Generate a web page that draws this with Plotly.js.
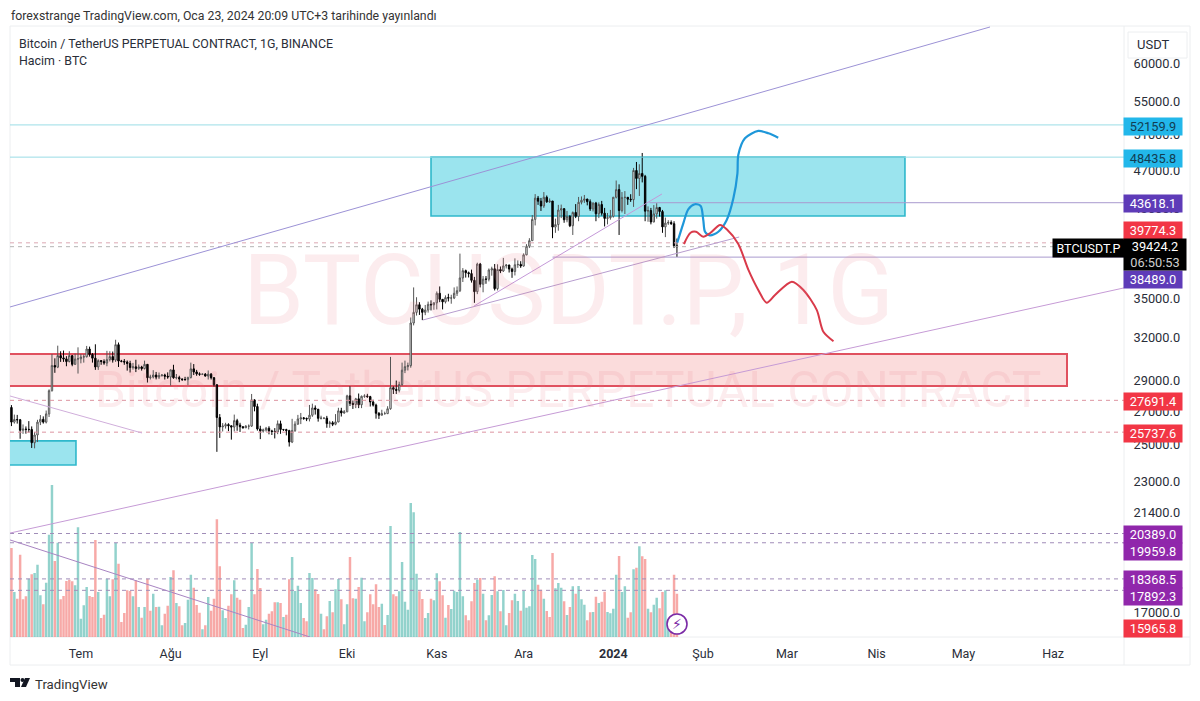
<!DOCTYPE html>
<html><head><meta charset="utf-8">
<script src="https://cdn.plot.ly/plotly-3.0.1.min.js"></script>
<style>html,body{margin:0;padding:0;background:#fff;overflow:hidden}#c{width:1200px;height:701px}</style>
</head><body><div id="c"></div>
<script>
// ---- OHLC (daily, first candle 7 Jun 2023) grouped by month ----
const firstDay = -24; // days relative to 1 Jul 2023
const opens = [
27240,26340,26500,26480,25850,25920,25900,25900,25120,25570,26340,26510,26340,26840,28310,30000,29890,30690,30530,30460,30270,30690,30080,30450,
30470,30590,30610,31160,30770,30510,29900,30340,30280,30170,30410,30620,30380,31470,30310,30290,30240,30140,29860,29910,29800,29900,29790,30080,29170,29220,29350,29210,29310,29350,29270,
29220,29700,29170,29180,29090,29050,29040,29180,29770,29560,29430,29400,29410,29280,29410,29170,28700,26620,26050,26100,26190,26120,26040,26430,26160,26060,26000,26090,26100,27720,27300,
25930,25800,25870,25970,25810,25780,25750,26240,25900,25890,25830,25160,25840,26220,26530,26600,26560,26530,26760,27210,27130,26570,26580,26580,26250,26300,26210,26350,27030,26900,
26970,27980,27500,27430,27790,27410,27950,27970,27930,27590,27390,26880,26760,26860,26860,27160,28510,28400,28330,28720,29680,29920,29990,33080,33900,34500,34150,33900,34080,34530,34490,
34650,35420,34930,34730,35070,35030,35040,35420,35630,36690,37310,37130,37060,36490,35550,37880,36160,36590,36580,37370,37470,35800,37410,37280,37720,37790,37450,37240,37820,37850,
37710,38690,39470,39970,41980,44080,43770,43290,44170,43710,43790,41240,41480,42890,43020,41940,42260,41370,42650,42270,43660,43860,43990,43720,43000,43580,42520,43440,42580,42070,42140,
42280,44170,44950,42840,44150,44160,43970,43930,46970,46120,46650,46340,42780,42840,41730,42510,43140,42740,41260,41620,41680,41560,39500];
const highs = [
27390,26800,26780,26530,26200,26080,26400,26080,25750,26480,26770,26690,27050,28400,30800,30500,31400,31000,31050,30650,31000,30700,30830,31280,
30800,30780,31380,31330,30870,31500,30430,30380,30430,31030,31000,30980,31830,31630,30390,30450,30350,30330,30180,30400,30070,29980,30340,30100,29370,29680,29560,29520,29410,29440,29530,
29730,30050,29420,29300,29110,29230,29240,30200,30100,29700,29530,29450,29480,29660,29490,29220,28750,26830,26280,26300,26270,26130,26800,26540,26300,26100,26160,26200,28100,27760,27480,
26120,25950,26050,26090,25880,25980,26440,26430,25930,25940,25880,26540,26390,26780,26900,26650,26620,27400,27480,27370,27150,26730,26620,26720,26420,26400,26830,27220,27220,27080,
28050,28600,27680,27850,28130,28000,28080,28110,27980,27730,27480,26950,27100,26980,27320,30600,28600,28980,28900,30200,30340,30200,33500,35900,35100,34700,34250,34480,34750,34850,34700,
35570,35980,34950,35250,35380,35300,35900,35980,38800,37530,37400,37230,37400,36780,38000,37980,36850,36850,37500,37650,37880,37860,37670,38420,37880,37830,37570,38380,38200,38130,
38820,39650,40200,42400,44490,44300,44100,44700,44350,44050,43790,42050,43400,43430,43080,42800,42400,42750,43480,44200,44250,44400,44000,43950,43650,43700,43650,43800,43100,42600,42900,
44200,45900,45500,44700,44800,44200,44480,47250,47900,47650,48900,46500,43250,43100,43380,43570,43200,42900,42150,41900,41880,41800,40170];
const lows = [
26100,26250,26250,25350,25640,25650,25720,24820,24800,25160,26160,26250,26260,26650,28260,29500,29820,30250,30250,29950,30220,29950,30050,29450,
30150,30200,30560,30620,30200,29700,29700,30050,30050,29950,30280,30200,30250,29900,30220,30050,29650,29520,29720,29550,29700,29650,29730,28850,29050,29120,29060,29080,29250,29050,29100,
28650,29100,29060,28870,28950,28980,28670,29120,29350,29300,29300,29350,29250,29050,29050,28580,24600,25400,25780,25950,25800,25300,25780,25820,25750,25960,25980,25900,26050,27000,25830,
25330,25710,25770,25610,25570,25370,25620,25640,25810,25550,24900,25100,25750,26170,26220,26480,26400,26380,26660,26800,26370,26500,26520,26000,26000,26100,26150,26330,26680,26850,
26950,27330,27150,27200,27200,27200,27850,27850,27300,27300,26550,26530,26770,26800,26830,27100,28100,28100,28200,28630,29480,29660,29850,32900,33650,33700,33300,33680,33880,34050,34100,
34130,34700,34130,34600,34760,34580,34950,35200,35520,36350,36720,36730,36300,34650,35350,35900,35500,36200,36400,36880,35650,35650,37100,37200,37500,37150,36700,36900,37550,37550,
37650,38650,39300,39950,41400,43400,42800,43100,43600,43600,40200,40700,40900,42100,41650,41700,41240,40500,42100,41800,43450,43600,43350,42800,42750,41800,42100,42350,41300,41500,41950,
42150,44050,40500,42650,42500,43400,43700,43200,45000,44300,45700,41800,41750,41500,41700,42050,42250,40700,40300,41450,41450,39300,38500];
const closes = [
26340,26500,26480,25850,25920,25900,25900,25120,25570,26340,26510,26340,26840,28310,30000,29890,30690,30530,30460,30270,30690,30080,30450,30470,
30590,30610,31160,30770,30510,29900,30340,30280,30170,30410,30620,30380,31470,30310,30290,30240,30140,29860,29910,29800,29900,29790,30080,29170,29220,29350,29210,29310,29350,29270,29220,
29700,29170,29180,29090,29050,29040,29180,29770,29560,29430,29400,29410,29280,29410,29170,28700,26620,26050,26100,26190,26120,26040,26430,26160,26060,26000,26090,26100,27720,27300,25930,
25800,25870,25970,25810,25780,25750,26240,25900,25890,25830,25160,25840,26220,26530,26600,26560,26530,26760,27210,27130,26570,26580,26580,26250,26300,26210,26350,27030,26900,26970,
27980,27500,27430,27790,27410,27950,27970,27930,27590,27390,26880,26760,26860,26860,27160,28510,28400,28330,28720,29680,29920,29990,33080,33900,34500,34150,33900,34080,34530,34490,34650,
35420,34930,34730,35070,35030,35040,35420,35630,36690,37310,37130,37060,36490,35550,37880,36160,36590,36580,37370,37470,35800,37410,37280,37720,37790,37450,37240,37820,37850,37710,
38690,39470,39970,41980,44080,43770,43290,44170,43710,43790,41240,41480,42890,43020,41940,42260,41370,42650,42270,43660,43860,43990,43720,43000,43580,42520,43440,42580,42070,42140,42280,
44170,44950,42840,44150,44160,43970,43930,46970,46120,46650,46340,42780,42840,41730,42510,43140,42740,41260,41620,41680,41560,39500,39420];
// ---- Volume (thousand BTC) and its colour side, T = teal, R = red ----
const volumes = [
356,180,153,329,151,163,233,251,256,289,167,131,217,409,608,304,377,151,164,224,
229,223,207,439,73,127,200,164,160,388,180,76,89,233,163,231,376,293,60,96,
187,184,163,227,120,77,120,233,105,173,120,121,47,93,125,240,267,136,123,47,
56,149,249,197,128,97,31,47,160,105,153,471,283,107,76,125,171,227,157,149,
36,49,120,376,171,272,196,51,69,93,103,139,139,136,80,89,231,320,184,205,
136,76,63,256,236,191,172,93,31,83,144,99,191,232,151,
51,131,320,155,153,200,237,63,99,171,131,211,120,133,48,88,444,171,163,183,
300,141,109,536,499,253,183,152,76,96,153,147,255,223,167,77,128,112,185,180,
420,163,87,67,143,216,229,236,173,67,87,168,243,183,103,188,47,96,147,173,
144,105,184,117,123,328,312,209,189,153,104,80,336,195,216,197,143,88,120,203,
173,204,151,129,67,99,100,161,136,141,181,100,95,113,249,324,180,203,77,99,
271,277,363,323,312,113,99,129,157,115,180,187,33,27,249,173];
const volSides = ("RTRRRRTRTT"+"TRTTTRTRRR"+"RRTTTTTRRR"+"TRRTTRTRRR"+"RRTRTRTRRT"+"RTTRRTRTRR"+"TTTRRRTRTR"+"RRRTTRRTRR"+"RTTTRRRTTR"+"RRTRTRRTTT"+"TRRTTRRTRR"+"TRTTR"
 +"TTRRTRTTRR"+"RRRTRTTRRT"+"TTTTTTRRTT"+"RTTRRTRTTT"+"TTRRRRTRTR"+"TTRTRTTRRT"+"TRTTTTTRRT"+"RRRTTTRTRT"+"RTTTRRTRTR"+"RTTTTRTTRR"+"TRTRRTRTTR"+"RTTRRR").split("");
// ---- Axis ticks ----
const priceTicks = [60000,55000,51000,47000,43000,35000,32000,29000,27000,25000,23000,21400,17000];
const monthDates = ["2023-07-01","2023-08-01","2023-09-01","2023-10-01","2023-11-01","2023-12-01","2024-01-01","2024-02-01","2024-03-01","2024-04-01","2024-05-01","2024-06-01"];
const monthLabels = ["Tem","Ağu","Eyl","Eki","Kas","Ara","<b>2024</b>","Şub","Mar","Nis","May","Haz"];
// ---- Hand-drawn forecast curves: day offset and price ----
const blueDays = [206.1,208.2,209.9,212.2,214.2,215.1,215.7,217.4,220.3,223.2,225.5,226.9,227.2,229.5,234.1,237.6,241];
const bluePrices = [39790,41600,42960,43460,43290,41920,40800,40460,40800,41920,44060,46670,48680,50580,51440,51160,50650];
const redDays = [208.4,210.7,212.6,215.1,217.4,220.9,223.2,227.2,230.7,234.1,237,239.9,245.7,249.7,254.3,256.6,260.1];
const redPrices = [39670,40710,40800,40340,40660,41440,41030,39670,37370,35690,34660,35280,36380,35690,34090,32420,31720];
// ---- Trend lines: start day, end day, start price, end price, colour ----
const trendStartDays = [-24.5,-24.5,-24.5,-24.5,135.9,118.2];
const trendEndDays = [314.2,360.5,21.1,79.2,200.8,227.5];
const trendStartPrices = [34320,20410,27970,20090,34400,33310];
const trendEndPrices = [65330,35860,25690,16070,44500,40310];
const trendColors = ["#9c92d6","#c69bd6","#d0aedb","#a884c2","#c498d8","#b79dcf"];
// ---- Horizontal price levels ----
const levelValues = [52159.9,48435.8,43618.1,39774.3,39424.2,38489,27691.4,25737.6,20389,19959.8,18368.5,17892.3];
const levelStartDays = [-24.5,-24.5,196.5,-24.5,-24.5,163,-24.5,-24.5,-24.5,-24.5,-24.5,-24.5];
const levelDashes = ["solid","solid","solid","dash","dash","solid","dash","dash","dash","dash","dash","dash"];
const levelColors = ["#9adde6","#9adde6","#a99ace","#dba8b2","#b5b5b5","#a99ace","#dd94a0","#dd94a0","#a08db8","#a08db8","#a08db8","#a08db8"];
// ---- Zones: day range and price range ----
const zoneNames = ["resistance","demand","oldDemand"];
const zoneStartDays = [121,-30,-30];
const zoneEndDays = [284.8,340.8,-1.7];
const zoneLowPrices = [42300,28620,23870];
const zoneHighPrices = [48435.8,30810,25230];
const zoneFills = ["#9be4ee","#fbdcdc","#9be4ee"];
const zoneLines = ["#2fb8cb","#e0515f","#2fb8cb"];
// ---- Price labels on the right ----
const labelTexts = ["52159.9","48435.8","43618.1","39774.3","38489.0","27691.4","25737.6","20389.0","19959.8","18368.5","17892.3","15965.8"];
const labelYs = [126,158,203.5,230.5,279,401,433,534,551,579.5,596.5,628.5];
const labelBgs = ["#22b7ea","#22b7ea","#5e3bb8","#f23645","#5e3bb8","#f23645","#f23645","#9027ab","#9027ab","#9027ab","#9027ab","#f23645"];
const labelFgs = ["#123d52","#123d52","#fff","#fff","#fff","#fff","#fff","#fff","#fff","#fff","#fff","#fff"];

const FONT = "Roboto, 'Noto Sans', sans-serif";
const W=1200,H=701,L=10,R=1124,T=26,B=637;
const dayDate = d => new Date(Date.UTC(2023,6,1)+d*864e5).toISOString().slice(0,19).replace("T"," ");
const candleDates = closes.map((_,i)=>dayDate(firstDay+i));
const px = x => (x-L)/(R-L), py = y => 1-(y-T)/(B-T);

const traces = [];
traces.push({type:"bar",x:candleDates,y:volumes,xaxis:"x",yaxis:"y",
  marker:{color:volSides.map(s=>s==="T"?"rgba(38,166,154,0.5)":"rgba(239,83,80,0.5)"),line:{width:0}},hoverinfo:"skip",name:"Hacim"});
traces.push({type:"candlestick",x:candleDates,open:opens,high:highs,low:lows,close:closes,xaxis:"x",yaxis:"y2",whiskerwidth:0,
  increasing:{line:{color:"#555",width:1},fillcolor:"#ffffff"},decreasing:{line:{color:"#000",width:1},fillcolor:"#000"},hoverinfo:"skip",name:"BTCUSDT.P"});
levelValues.forEach((v,i)=>traces.push({type:"scatter",mode:"lines",x:[dayDate(levelStartDays[i]),dayDate(360.5)],y:[v,v],xaxis:"x",yaxis:"y2",
  line:{color:levelColors[i],width:1,dash:levelDashes[i]==="dash"?"4px,4px":"solid"},hoverinfo:"skip"}));
trendStartDays.forEach((d,i)=>traces.push({type:"scatter",mode:"lines",x:[dayDate(d),dayDate(trendEndDays[i])],y:[trendStartPrices[i],trendEndPrices[i]],xaxis:"x",yaxis:"y2",
  line:{color:trendColors[i],width:1},hoverinfo:"skip"}));
traces.push({type:"scatter",mode:"lines",x:blueDays.map(dayDate),y:bluePrices,xaxis:"x",yaxis:"y2",line:{color:"#1e97d9",width:2.2,shape:"spline",smoothing:0.8},hoverinfo:"skip"});
traces.push({type:"scatter",mode:"lines",x:redDays.map(dayDate),y:redPrices,xaxis:"x",yaxis:"y2",line:{color:"#d93a4a",width:2,shape:"spline",smoothing:0.8},hoverinfo:"skip"});

const shapes = [];
zoneNames.forEach((n,i)=>shapes.push({type:"rect",layer:"below",xref:"x",yref:"y2",x0:dayDate(zoneStartDays[i]),x1:dayDate(zoneEndDays[i]),y0:zoneLowPrices[i],y1:zoneHighPrices[i],fillcolor:zoneFills[i],line:{color:zoneLines[i],width:i===1?2:1.6}}));
const frame = (x0,y0,x1,y1)=>({type:"line",layer:"below",xref:"paper",yref:"paper",x0:px(x0),y0:py(y0),x1:px(x1),y1:py(y1),line:{color:"#eceef0",width:1}});
shapes.push(frame(10,26,1190,26),frame(10,26,10,665),frame(10,665,1190,665),frame(1190,26,1190,665),frame(10,637,1190,637),frame(1124,26,1124,665));
// USDT button
shapes.push({type:"rect",xref:"paper",yref:"paper",x0:px(1128),x1:px(1187),y0:py(58),y1:py(32),fillcolor:"#fff",line:{color:"#eceef0",width:1}});
// TradingView mark
const pathOf = pts => pts.map((p,i)=>(i?"L":"M")+px(p[0])+" "+py(p[1])).join(" ")+" Z";
const logoParts = [[[10,678],[20,678],[20,687],[15,687],[15,682],[10,682]],[[25,678],[30,678],[26,687],[21,687]]];
logoParts.forEach(p=>shapes.push({type:"path",xref:"paper",yref:"paper",path:pathOf(p),fillcolor:"#131722",line:{width:0}}));
shapes.push({type:"circle",xref:"paper",yref:"paper",x0:px(20.5),x1:px(24.5),y0:py(682),y1:py(678),fillcolor:"#131722",line:{width:0}});
shapes.push({type:"circle",xref:"paper",yref:"paper",x0:px(667),x1:px(687),y0:py(634),y1:py(614),fillcolor:"#fff",line:{color:"#7b2ba6",width:1.6}});

const note = (x,y,text,o={}) => Object.assign({xref:"paper",yref:"paper",x:px(x),y:py(y),text,showarrow:false,xanchor:"left",yanchor:"middle",
  font:{family:FONT,size:12,color:"#2a2e39"},borderpad:0},o);
const annotations = [
  note(568,290,"BTCUSDT.P, 1G",{xanchor:"center",font:{family:FONT,size:98,color:"rgba(233,130,140,0.15)"}}),
  note(568,390,"Bitcoin / TetherUS PERPETUAL CONTRACT",{xanchor:"center",font:{family:FONT,size:49.5,color:"rgba(233,130,140,0.15)"}}),
  note(10,15.5,"forexstrange TradingView.com, Oca 23, 2024 20:09 UTC+3 tarihinde yayınlandı",{font:{family:FONT,size:12.3,color:"#333"}}),
  note(18,43.5,"Bitcoin / TetherUS PERPETUAL CONTRACT, 1G, BINANCE",{font:{family:FONT,size:12.4,color:"#2a2e39"}}),
  note(18,60.5,"Hacim · BTC",{font:{family:FONT,size:12.4,color:"#2a2e39"}}),
  note(34,684,"TradingView",{font:{family:FONT,size:13.2,color:"#333"}}),
  note(1153,45,"USDT",{xanchor:"center",font:{family:FONT,size:13,color:"#2a2e39"}}),
  note(677,624,"⚡",{xanchor:"center",font:{family:"DejaVu Sans",size:14,color:"#7b2ba6"}}),
  note(1088.5,248,"BTCUSDT.P",{xanchor:"center",width:71,height:18,bgcolor:"#000",font:{family:FONT,size:12.5,color:"#fff"}})
];
labelTexts.forEach((t,i)=>annotations.push(note(1153,labelYs[i],t,{xanchor:"center",width:58,height:17,bgcolor:labelBgs[i],font:{family:FONT,size:12.8,color:labelFgs[i]}})));
annotations.push(note(1155,254.5,"39424.2<br><span style=\"color:#cfcfcf\">06:50:53</span>",{xanchor:"center",width:62,height:31,bgcolor:"#000",font:{family:FONT,size:12.8,color:"#fff"}}));

const layout = {
  width:W,height:H,margin:{l:L,r:W-R,t:T,b:H-B,pad:0},paper_bgcolor:"#fff",plot_bgcolor:"#fff",showlegend:false,bargap:0.15,
  font:{family:FONT,size:12,color:"#2a2e39"},
  xaxis:{type:"date",range:[dayDate(-24.5),dayDate(360.5)],tickmode:"array",tickvals:monthDates,ticktext:monthLabels,showgrid:false,zeroline:false,showline:false,
    ticks:"outside",ticklen:5,tickcolor:"rgba(0,0,0,0)",tickfont:{family:FONT,size:12.5,color:"#2a2e39"},rangeslider:{visible:false},fixedrange:true},
  yaxis:{range:[0,2444],visible:false,fixedrange:true,showgrid:false,zeroline:false},
  yaxis2:{type:"log",overlaying:"y",side:"right",range:[Math.log10(16072),Math.log10(65477)],tickmode:"array",tickvals:priceTicks,ticktext:priceTicks.map(v=>v.toFixed(1)),
    showgrid:false,zeroline:false,showline:false,ticks:"outside",ticklen:6,tickcolor:"rgba(0,0,0,0)",tickfont:{family:FONT,size:12.8,color:"#2a2e39"},fixedrange:true},
  shapes,annotations
};
Plotly.newPlot("c",traces,layout,{displayModeBar:false,staticPlot:true});
</script></body></html>
